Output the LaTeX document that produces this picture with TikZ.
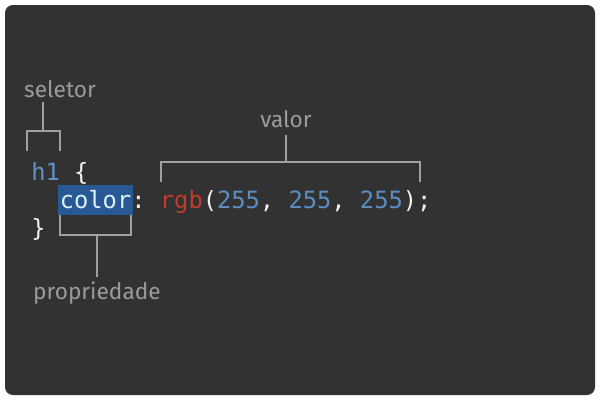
\documentclass[tikz,border=0pt]{standalone}
\usepackage{fontspec}
\setmainfont{Fira Sans}
\setmonofont{DejaVu Sans Mono}
\usetikzlibrary{positioning}
\definecolor{panel}{HTML}{323232}
\definecolor{lblgray}{HTML}{9B9B9B}
\definecolor{linegray}{HTML}{A0A0A0}
\definecolor{codewhite}{HTML}{F2F2F2}
\definecolor{tagblue}{HTML}{5F93C8}
\definecolor{numblue}{HTML}{5B8EC2}
\definecolor{fnred}{HTML}{C43B2E}
\definecolor{hlblue}{HTML}{285994}
\definecolor{hltext}{HTML}{DCF1FF}

\begin{document}
\begin{tikzpicture}[x=0.75pt,y=-0.75pt,
      every node/.style={inner sep=0pt},
      lbl/.style={text=lblgray,font=\fontsize{17}{20}\selectfont,anchor=base},
      code/.style={text=codewhite,font=\ttfamily\fontsize{17.8}{21}\selectfont,anchor=base west},
      brace/.style={draw=linegray,line width=1.5pt}]
      \useasboundingbox (0,0) rectangle (600,400);
      \fill[panel,rounded corners=6pt] (5,5) rectangle (595,395);
      \node[code] (open) at (31,180) {\textcolor{tagblue}{h1} \{};
      \node[code,fill=hlblue,text=hltext,inner xsep=1.5pt,inner ysep=1.5pt,
            text height=16pt,text depth=4pt] (prop) at (57.6,208) {color};
      \node[code] (val) at (131.1,208) {:
            \textcolor{fnred}{rgb}(\textcolor{numblue}{255}, \textcolor{numblue}{255}, \textcolor{numblue}{255});};
      \node[code] (close) at (31,236) {\}};
      \node[lbl] (seletor) at (60,97) {seletor};
      \node[lbl] (valor) at (286,127) {valor};
      \node[lbl] (propriedade) at (97,299) {propriedade};
      \draw[brace] (27,151) |- (60,130.5) -- (60,151);
      \draw[brace] (43,130.5) -- (43,102);
      \draw[brace] (161,182) |- (420,162) -- (420,182);
      \draw[brace] (286,162) -- (286,135);
      \draw[brace] (60,215) |- (131,235) -- (131,215);
      \draw[brace] (97,235) -- (97,277);
\end{tikzpicture}
\end{document}
